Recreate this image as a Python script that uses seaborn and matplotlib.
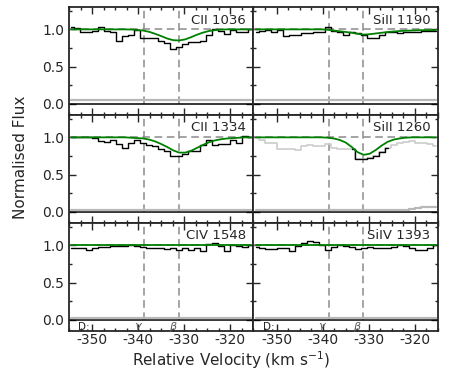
"""Velocity stack of absorption lines: normalised flux vs relative velocity."""

import matplotlib

matplotlib.use("Agg")
import matplotlib.pyplot as plt
import numpy as np
import pandas as pd
import seaborn as sns
from matplotlib.ticker import MultipleLocator

# pixel grid (km/s)
VEL_START = -354.5
VEL_STEP = 1.3
N_PIX = 31
velocity = np.round(VEL_START + VEL_STEP * np.arange(N_PIX), 2)

# component centres marked in every panel
comp_names = [r"$\gamma$", r"$\beta$"]
comp_vel = [-338.7, -331.2]

line_labels = ["CII 1036", "SiII 1190", "CII 1334", "SiII 1260", "CIV 1548", "SiIV 1393"]

flux_cii1036 = [1.03, 1.02, 0.96, 0.97, 0.98, 1.03, 0.98, 0.97, 0.84, 0.91, 0.92,
                0.99, 0.89, 0.89, 0.88, 0.84, 0.82, 0.73, 0.77, 0.81, 0.83, 0.83,
                0.84, 0.92, 1.00, 0.98, 0.94, 0.99, 0.96, 0.97, 1.00]
flux_sii1190 = [0.97, 0.98, 0.99, 0.96, 0.99, 0.91, 0.93, 0.93, 0.95, 0.95, 0.96,
                0.97, 1.03, 0.98, 0.97, 0.92, 0.97, 0.95, 0.93, 0.89, 0.89, 0.93,
                0.97, 0.97, 0.95, 0.96, 0.96, 0.97, 0.98, 0.98, 0.98]
flux_cii1334 = [1.01, 1.00, 1.01, 1.01, 0.99, 0.955, 0.94, 0.97, 0.91, 0.86, 0.92,
                0.97, 0.92, 0.90, 0.89, 0.84, 0.82, 0.755, 0.755, 0.77, 0.81, 0.82,
                0.90, 0.97, 0.90, 0.91, 0.91, 0.97, 0.93, 1.02, 1.00]
flux_sii1260 = [1.01, 0.97, 0.93, 0.93, 0.84, 0.85, 0.85, 0.83, 0.88, 0.90, 0.89,
                0.88, 0.91, 0.86, 0.84, 0.84, 0.84, 0.71, 0.71, 0.72, 0.75, 0.80,
                0.86, 0.90, 0.92, 0.94, 0.95, 0.93, 0.92, 0.91, 0.89]
flux_civ1548 = [0.97, 0.96, 0.96, 0.94, 0.96, 0.98, 0.98, 0.99, 0.99, 0.99, 1.01,
                0.99, 0.98, 0.96, 0.97, 0.96, 0.95, 0.97, 0.94, 0.97, 0.94, 0.97,
                0.92, 1.02, 1.03, 0.99, 0.93, 1.00, 0.99, 0.98, 1.00]
flux_siiv1393 = [0.98, 0.96, 0.95, 0.95, 0.97, 0.97, 0.92, 0.99, 1.03, 1.06, 1.04,
                 1.00, 0.94, 0.98, 1.00, 0.99, 0.98, 0.95, 0.97, 0.98, 0.97, 0.96,
                 0.97, 0.98, 1.00, 0.99, 0.96, 0.94, 0.94, 0.96, 1.00]

model_cii1036 = [1.0, 1.0, 1.0, 1.0, 1.0, 1.0, 1.0, 1.0, 1.0, 1.0, 0.998,
                 0.993, 0.984, 0.967, 0.94, 0.91, 0.877, 0.855, 0.851, 0.866, 0.896, 0.93,
                 0.958, 0.979, 0.99, 0.997, 1.0, 1.0, 1.0, 1.0, 1.0]
model_sii1190 = [1.0, 1.0, 1.0, 1.0, 1.0, 1.0, 1.0, 1.0, 1.0, 1.0, 1.0,
                 1.0, 0.995, 0.985, 0.975, 0.965, 0.955, 0.94, 0.93, 0.935, 0.945, 0.955,
                 0.965, 0.972, 0.978, 0.982, 0.985, 0.988, 0.99, 0.99, 0.99]
model_cii1334 = [1.0, 1.0, 1.0, 1.0, 1.0, 1.0, 1.0, 1.0, 1.0, 1.0, 0.995,
                 0.99, 0.985, 0.97, 0.945, 0.91, 0.87, 0.825, 0.795, 0.795, 0.82, 0.86,
                 0.90, 0.935, 0.96, 0.975, 0.985, 0.99, 0.995, 1.0, 1.0]
model_sii1260 = [1.0, 1.0, 1.0, 1.0, 1.0, 1.0, 1.0, 1.0, 1.0, 1.0, 1.0,
                 1.0, 0.995, 0.985, 0.965, 0.93, 0.87, 0.80, 0.765, 0.78, 0.83, 0.89,
                 0.94, 0.97, 0.985, 0.995, 1.0, 1.0, 1.0, 1.0, 1.0]
model_civ1548 = [1.0] * N_PIX
model_siiv1393 = [1.0] * N_PIX

err_cii1036 = [0.05] * N_PIX
err_sii1190 = [0.05] * N_PIX
err_cii1334 = [0.03] * N_PIX
err_sii1260 = [0.03] * 26 + [0.04, 0.055, 0.06, 0.06, 0.06]
err_civ1548 = [0.03] * N_PIX
err_siiv1393 = [0.03] * N_PIX

# SiII 1260 is blended: only these pixels are fitted (black), rest shown grey
sii1260_fit_pixels = list(range(16, 23))

fluxes = [flux_cii1036, flux_sii1190, flux_cii1334, flux_sii1260, flux_civ1548, flux_siiv1393]
models = [model_cii1036, model_sii1190, model_cii1334, model_sii1260, model_civ1548, model_siiv1393]
errors = [err_cii1036, err_sii1190, err_cii1334, err_sii1260, err_civ1548, err_siiv1393]

sns.set_style("ticks")
plt.rcParams["font.family"] = ["DejaVu Sans"]
plt.rcParams["axes.unicode_minus"] = False

GREY = "0.55"
DASH = (0, (5, 3))

fig, axes = plt.subplots(3, 2, figsize=(4.63, 3.71), dpi=100, sharex=True, sharey=True)
fig.subplots_adjust(left=0.149, right=0.946, top=0.981, bottom=0.108, hspace=0, wspace=0)

for k, ax in enumerate(axes.flat):
    df = pd.DataFrame({"v": velocity, "flux": fluxes[k], "model": models[k], "err": errors[k]})

    ax.axhline(1.0, color=GREY, ls=DASH, lw=1.1, zorder=1)
    ax.vlines(comp_vel, 0, 1.3, colors=GREY, linestyles=DASH, lw=1.1, zorder=1)
    ax.axhline(0.0, color="k", lw=1.1, zorder=2)
    sns.lineplot(data=df, x="v", y="err", color="0.72", lw=1.6, ax=ax,
                 estimator=None, drawstyle="steps-mid", zorder=2)

    if line_labels[k] == "SiII 1260":
        sns.lineplot(data=df, x="v", y="flux", color="0.8", lw=1.2, ax=ax,
                     estimator=None, drawstyle="steps-mid", zorder=3)
        sns.lineplot(data=df.iloc[sii1260_fit_pixels], x="v", y="flux", color="k",
                     lw=1.0, ax=ax, estimator=None, drawstyle="steps-mid", zorder=4)
    else:
        sns.lineplot(data=df, x="v", y="flux", color="k", lw=1.0, ax=ax,
                     estimator=None, drawstyle="steps-mid", zorder=4)
    sns.lineplot(data=df, x="v", y="model", color="green", lw=1.3, ax=ax,
                 estimator=None, zorder=5)

    ax.text(0.96, 0.88, line_labels[k], transform=ax.transAxes, ha="right",
            va="center", fontsize=9.5)

    ax.set_xlim(-355, -315)
    ax.set_ylim(-0.15, 1.3)
    ax.xaxis.set_major_locator(MultipleLocator(10))
    ax.xaxis.set_minor_locator(MultipleLocator(2.5))
    ax.yaxis.set_major_locator(MultipleLocator(0.5))
    ax.yaxis.set_minor_locator(MultipleLocator(0.25))
    ax.tick_params(which="both", direction="in", top=True, right=True, width=1,
                   labelsize=10)
    ax.tick_params(axis="x", pad=1.5)
    ax.tick_params(which="major", length=5)
    ax.tick_params(which="minor", length=2.5)
    for sp in ax.spines.values():
        sp.set_linewidth(1.3)
    ax.set_xlabel("")
    ax.set_ylabel("")

for ax in axes[-1]:
    ax.text(0.05, -0.1, "D:", transform=ax.get_yaxis_transform(), fontsize=7.5, va="center")
    for name, v in zip(comp_names, comp_vel):
        ax.text(v - 0.3, -0.1, name, ha="right", va="center", fontsize=8, color="0.35")

fig.text(0.045, 0.577, "Normalised Flux", rotation=90, ha="center", va="center", fontsize=11)
fig.text(0.5, 0.03, r"Relative Velocity (km s$^{-1}$)", ha="center", va="center", fontsize=11)

fig.savefig("out.png", dpi=100)
plt.close(fig)
